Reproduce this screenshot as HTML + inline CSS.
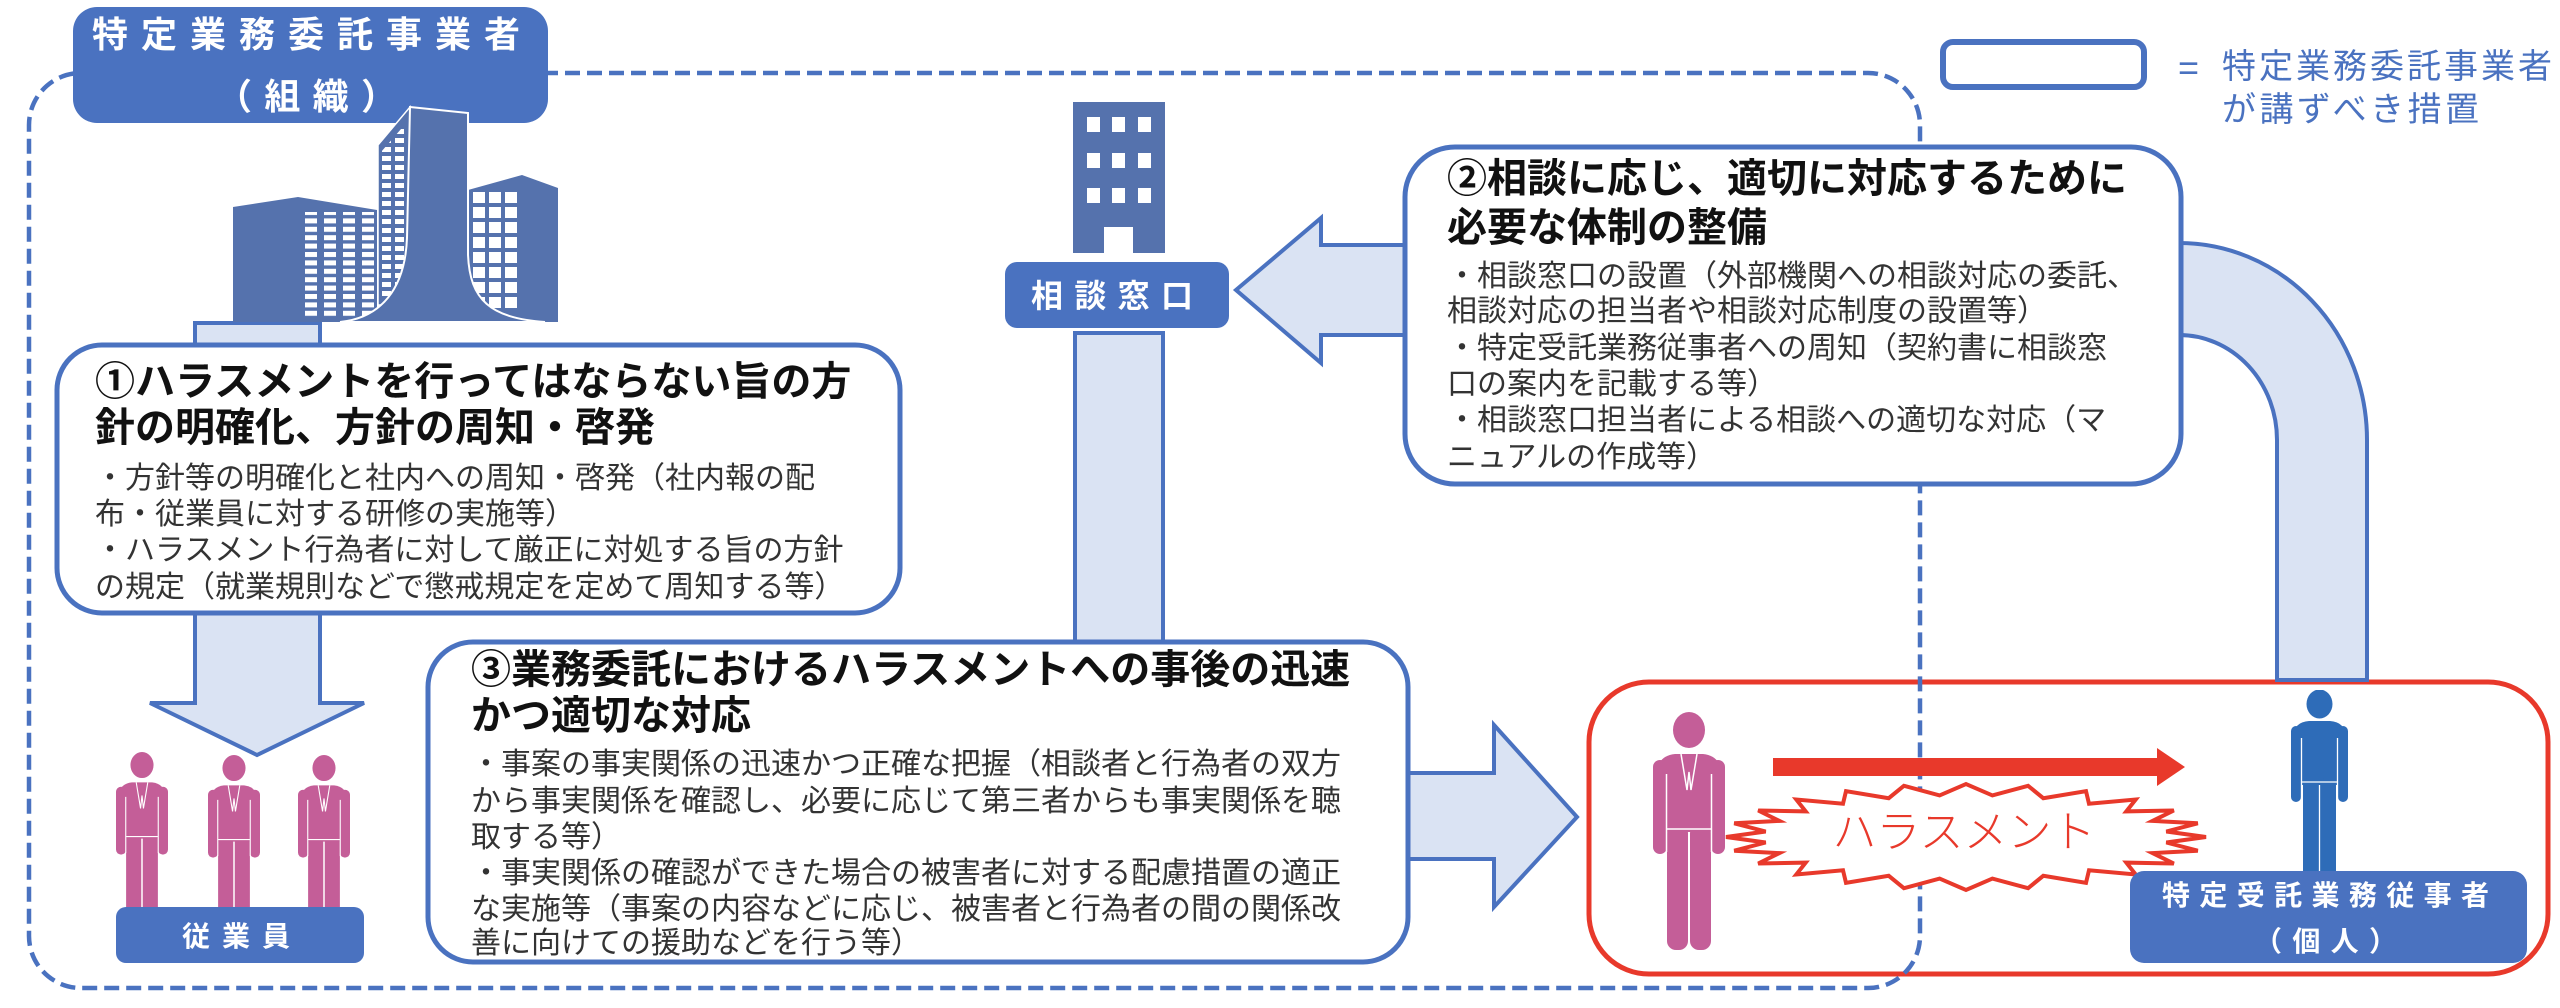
<!DOCTYPE html>
<html lang="ja">
<head>
<meta charset="utf-8">
<title>特定業務委託事業者が講ずべき措置</title>
<style>
  html,body{margin:0;padding:0;background:#fff;}
  svg{display:block;}
  text{font-family:"Liberation Sans","Noto Sans CJK JP",sans-serif;}
  .h{font-size:40px;font-weight:700;fill:#111;}
  .b{font-size:30px;font-weight:400;fill:#333;}
  .w{fill:#fff;font-weight:700;}
</style>
</head>
<body>
<svg width="2560" height="1008" viewBox="0 0 2560 1008" xmlns="http://www.w3.org/2000/svg">
  <defs>
    <pattern id="pl" x="305" y="210" width="19" height="8.4" patternUnits="userSpaceOnUse">
      <rect width="12" height="5" fill="#fff"/>
    </pattern>
    <pattern id="pr" x="473" y="192" width="16" height="15" patternUnits="userSpaceOnUse">
      <rect width="12" height="11" fill="#fff"/>
    </pattern>
    <pattern id="pt" x="382" y="120" width="13" height="9" patternUnits="userSpaceOnUse">
      <rect width="9" height="5" fill="#fff"/>
    </pattern>
    <clipPath id="tf"><polygon points="381,152 408,121 408,300 381,300"/></clipPath>

    <symbol id="suit" viewBox="0 0 72 238">
      <ellipse cx="36" cy="18" rx="16" ry="18"/>
      <rect x="0" y="48" width="14" height="94" rx="7"/>
      <rect x="58" y="48" width="14" height="94" rx="7"/>
      <path d="M4,62 Q4,44 22,42 L50,42 Q68,44 68,62 L68,120 L4,120 Z"/>
      <rect x="14" y="112" width="21" height="126" rx="9"/>
      <rect x="37" y="112" width="21" height="126" rx="9"/>
      <g fill="none" stroke="#fff" stroke-width="1.5">
        <path d="M13.5,62 L13.5,140 M58.5,62 L58.5,140"/>
        <path d="M14,117 L58,117"/>
        <path d="M28,42 L34,78 L36,60 L38,78 L44,42"/>
        <path d="M36,120 L36,236"/>
      </g>
    </symbol>

    <symbol id="plain" viewBox="0 0 57 190">
      <ellipse cx="28.5" cy="14" rx="13" ry="14.5"/>
      <rect x="0" y="36" width="10" height="76" rx="5"/>
      <rect x="47" y="36" width="10" height="76" rx="5"/>
      <path d="M3,46 Q3,32 18,31 L39,31 Q54,32 54,46 L54,95 L3,95 Z"/>
      <rect x="12" y="88" width="16" height="102" rx="6"/>
      <rect x="29" y="88" width="16" height="102" rx="6"/>
      <g fill="none" stroke="#fff" stroke-width="1.3">
        <path d="M10.5,48 L10.5,110 M46.5,48 L46.5,110"/>
        <path d="M11,92 L46,92"/>
        <path d="M28.5,95 L28.5,188"/>
      </g>
    </symbol>
  </defs>

  <!-- red box -->
  <rect x="1589" y="682" width="959" height="292" rx="60" fill="none" stroke="#e8392b" stroke-width="5"/>

  <!-- dashed organisation boundary -->
  <rect x="29" y="73" width="1891" height="915" rx="52" fill="none" stroke="#4a72c0" stroke-width="4.5" stroke-dasharray="15 7"/>

  <!-- arrows (light fill) -->
  <g fill="#dae3f3" stroke="#4a72c0" stroke-width="4" stroke-linejoin="miter">
    <path d="M195,323 L320,323 L320,703 L364,703 L257,755 L150,703 L195,703 Z"/>
    <rect x="1075" y="333" width="88" height="320"/>
    <path d="M1410,245 L1321,245 L1321,218 L1236,290 L1321,363 L1321,335 L1410,335 Z"/>
    <path d="M1400,773 L1494,773 L1494,725 L1577,817 L1494,907 L1494,859 L1400,859 Z"/>
    <path d="M2170,243 L2179,243 A188 197 0 0 1 2367,440 L2367,680 L2277,680 L2277,440 A98 105 0 0 0 2179,335 L2170,335 Z"/>
  </g>

  <!-- title box -->
  <rect x="73" y="7" width="475" height="116" rx="24" fill="#4a72c0"/>
  <text class="w" x="92" y="47" font-size="36" textLength="428" lengthAdjust="spacing">特定業務委託事業者</text>
  <text class="w" x="216" y="109" font-size="36" textLength="181" lengthAdjust="spacing">（組織）</text>

  <!-- left buildings -->
  <g>
    <polygon points="468,190 522,175 558,188 558,322 468,322" fill="#5572ad"/>
    <rect x="473" y="192" width="46" height="120" fill="url(#pr)"/>
    <polygon points="233,207 298,197 377,210 377,322 233,322" fill="#5572ad"/>
    <rect x="305" y="212" width="70" height="106" fill="url(#pl)"/>
    <polygon points="378,145 410,107 410,305 378,305" fill="#5572ad" stroke="#fff" stroke-width="1.5"/>
    <rect x="381" y="120" width="28" height="185" fill="url(#pt)" clip-path="url(#tf)"/>
    <path d="M410,107 L468,113 L468,255 C470,300 490,318 545,322 L340,322 C380,318 405,290 407,238 Z" fill="#5572ad" stroke="#fff" stroke-width="2"/>
  </g>

  <!-- 相談窓口 building -->
  <rect x="1073" y="102" width="92" height="151" fill="#5572ad"/>
  <g fill="#fff">
    <rect x="1087" y="117" width="13" height="15"/><rect x="1112" y="117" width="13" height="15"/><rect x="1138" y="117" width="13" height="15"/>
    <rect x="1087" y="153" width="13" height="15"/><rect x="1112" y="153" width="13" height="15"/><rect x="1138" y="153" width="13" height="15"/>
    <rect x="1087" y="188" width="13" height="15"/><rect x="1112" y="188" width="13" height="15"/><rect x="1138" y="188" width="13" height="15"/>
    <rect x="1104" y="227" width="29" height="26"/>
  </g>
  <rect x="1005" y="262" width="224" height="66" rx="12" fill="#4a72c0"/>
  <text class="w" x="1031" y="307" font-size="32" textLength="162" lengthAdjust="spacing">相談窓口</text>

  <!-- legend -->
  <rect x="1943" y="42" width="201" height="45" rx="10" fill="#fff" stroke="#4a72c0" stroke-width="6"/>
  <text x="2178" y="80" font-size="36" fill="#4a72c0">=</text>
  <text x="2222" y="78" font-size="34" fill="#4a72c0" textLength="330" lengthAdjust="spacing">特定業務委託事業者</text>
  <text x="2222" y="121" font-size="34" fill="#4a72c0" textLength="257" lengthAdjust="spacing">が講ずべき措置</text>

  <!-- box 1 -->
  <rect x="57" y="345" width="843" height="268" rx="45" fill="#fff" stroke="#4a72c0" stroke-width="5"/>
  <text class="h" x="95" y="395">①ハラスメントを行ってはならない旨の方</text>
  <text class="h" x="95" y="441">針の明確化、方針の周知・啓発</text>
  <text class="b" x="95" y="488">・方針等の明確化と社内への周知・啓発（社内報の配</text>
  <text class="b" x="95" y="524">布・従業員に対する研修の実施等）</text>
  <text class="b" x="95" y="560">・ハラスメント行為者に対して厳正に対処する旨の方針</text>
  <text class="b" x="95" y="597">の規定（就業規則などで懲戒規定を定めて周知する等）</text>

  <!-- box 2 -->
  <rect x="1405" y="147" width="776" height="337" rx="50" fill="#fff" stroke="#4a72c0" stroke-width="5"/>
  <text class="h" x="1447" y="192">②相談に応じ、適切に対応するために</text>
  <text class="h" x="1447" y="241">必要な体制の整備</text>
  <text class="b" x="1447" y="286">・相談窓口の設置（外部機関への相談対応の委託、</text>
  <text class="b" x="1447" y="321">相談対応の担当者や相談対応制度の設置等）</text>
  <text class="b" x="1447" y="358">・特定受託業務従事者への周知（契約書に相談窓</text>
  <text class="b" x="1447" y="394">口の案内を記載する等）</text>
  <text class="b" x="1447" y="430">・相談窓口担当者による相談への適切な対応（マ</text>
  <text class="b" x="1447" y="467">ニュアルの作成等）</text>

  <!-- box 3 -->
  <rect x="428" y="642" width="980" height="320" rx="45" fill="#fff" stroke="#4a72c0" stroke-width="5"/>
  <text class="h" x="471" y="683">③業務委託におけるハラスメントへの事後の迅速</text>
  <text class="h" x="471" y="729">かつ適切な対応</text>
  <text class="b" x="471" y="774">・事案の事実関係の迅速かつ正確な把握（相談者と行為者の双方</text>
  <text class="b" x="471" y="811">から事実関係を確認し、必要に応じて第三者からも事実関係を聴</text>
  <text class="b" x="471" y="847">取する等）</text>
  <text class="b" x="471" y="883">・事実関係の確認ができた場合の被害者に対する配慮措置の適正</text>
  <text class="b" x="471" y="919">な実施等（事案の内容などに応じ、被害者と行為者の間の関係改</text>
  <text class="b" x="471" y="953">善に向けての援助などを行う等）</text>

  <!-- employees -->
  <use href="#suit" x="116" y="752" width="52" height="172" fill="#c45e98"/>
  <use href="#suit" x="208" y="755" width="52" height="172" fill="#c45e98"/>
  <use href="#suit" x="298" y="755" width="52" height="172" fill="#c45e98"/>
  <rect x="116" y="907" width="248" height="56" rx="10" fill="#4a72c0"/>
  <text class="w" x="182" y="946" font-size="28" textLength="108" lengthAdjust="spacing">従業員</text>

  <!-- harassment scene -->
  <use href="#suit" x="1653" y="712" width="72" height="238" fill="#c45e98"/>
  <polygon points="1773,758 2157,758 2157,748 2185,767 2157,786 2157,776 1773,776" fill="#e8392b"/>
  <polygon fill="#fff" stroke="#e8392b" stroke-width="4" stroke-linejoin="miter"
    points="2206,837 2166.3,842.5 2197.8,850.7 2152.6,853.1 2173.8,863.5 2126.3,862.6 2135.7,874.5 2089,870.3 2086,882.9 2043.3,875.8 2028.1,888.2 1992.4,878.6 1966,890 1939.6,878.6 1903.9,888.2 1888.7,875.8 1846,882.9 1843,870.3 1796.3,874.5 1805.7,862.6 1758.2,863.5 1779.4,853.1 1734.2,850.7 1765.7,842.5 1726,837 1765.7,831.5 1734.2,823.3 1779.4,820.9 1758.2,810.5 1805.7,811.4 1796.3,799.5 1843,803.7 1846,791.1 1888.7,798.2 1903.9,785.8 1939.6,795.4 1966,784 1992.4,795.4 2028.1,785.8 2043.3,798.2 2086,791.1 2089,803.7 2135.7,799.5 2126.3,811.4 2173.8,810.5 2152.6,820.9 2197.8,823.3 2166.3,831.5"/>
  <text x="1964" y="847" font-size="44" font-weight="300" fill="#e8392b" text-anchor="middle">ハラスメント</text>

  <use href="#plain" x="2291" y="690" width="57" height="190" fill="#2e6cb8"/>
  <rect x="2130" y="871" width="397" height="92" rx="14" fill="#4a72c0"/>
  <text class="w" x="2162" y="905" font-size="28" textLength="327" lengthAdjust="spacing">特定受託業務従事者</text>
  <text class="w" x="2254" y="951" font-size="28" textLength="143" lengthAdjust="spacing">（個人）</text>
</svg>
</body>
</html>
